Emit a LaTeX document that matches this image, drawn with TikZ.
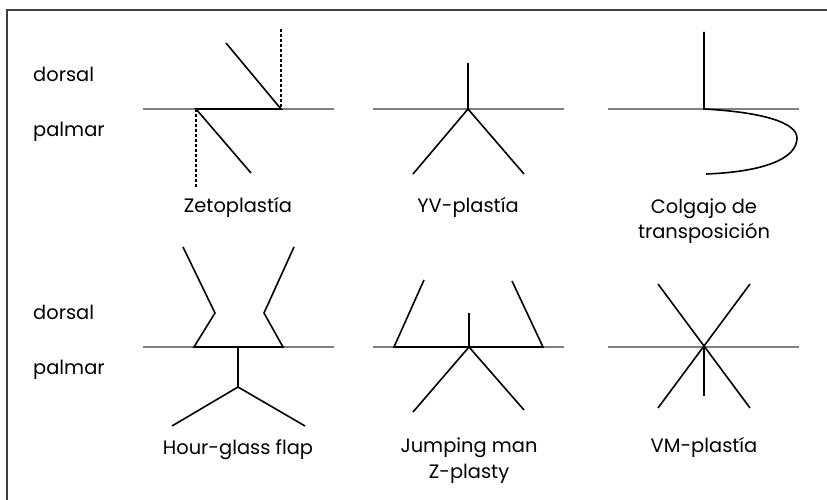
\documentclass[tikz,border=0pt]{standalone}
\usepackage{fontspec}
\setmainfont{Poppins}
\begin{document}
\begin{tikzpicture}[x=1bp,y=-1bp,
  lbl/.style={font=\fontsize{19.5}{26}\selectfont, inner sep=0pt, align=center},
  base/.style={draw=black!50, line width=1.2bp},
  cut/.style={draw=black, line width=1.6bp, line join=miter},
  dot/.style={draw=black, line width=1.3bp, dash pattern=on 3bp off 2bp}]
\useasboundingbox (0,0) rectangle (827,500);
\draw[black!75, line width=1.8bp] (7,500) -- (7,10) -- (827,10);
% side labels
\node[lbl, anchor=base west] (d1) at (33,82) {dorsal};
\node[lbl, anchor=base west] (p1) at (33,137) {palmar};
\node[lbl, anchor=base west] (d2) at (33,320) {dorsal};
\node[lbl, anchor=base west] (p2) at (33,374) {palmar};
% baselines
\foreach \y in {109,347}{
  \draw[base] (143,\y) -- (334,\y);
  \draw[base] (373,\y) -- (564,\y);
  \draw[base] (608,\y) -- (799,\y);
}
% Zetoplastia
\draw[cut] (226,43) -- (281,109) -- (196,109) -- (251,173);
\draw[dot] (281,29) -- (281,109);
\draw[dot] (196,109) -- (196,187);
\node[lbl, anchor=base] (t1) at (238,213) {Zetoplastía};
% YV-plastia
\draw[cut] (468,63) -- (468,109);
\draw[cut] (413,174) -- (468,109) -- (524,174);
\node[lbl, anchor=base] (t2) at (468,213) {YV-plastía};
% Colgajo
\draw[cut] (704,32) -- (704,109) .. controls (760,112) and (797,122) .. (797,138) .. controls (797,160) and (760,172) .. (706,174);
\node[lbl, anchor=base] (t3) at (704,239) {Colgajo de\\transposición};
% Hour-glass
\draw[cut] (183,247) -- (215,313) -- (194,347) -- (283,347) -- (264,313) -- (294,247);
\draw[cut] (238,347) -- (238,387);
\draw[cut] (172,426) -- (238,387) -- (305,426);
\node[lbl, anchor=base] (t4) at (238,454) {Hour-glass flap};
% Jumping man
\draw[cut] (424,280) -- (394,347) -- (543,347) -- (512,281);
\draw[cut] (469,313) -- (469,347);
\draw[cut] (413,412) -- (469,347) -- (524,410);
\node[lbl, anchor=base] (t5) at (469,478) {Jumping man\\Z-plasty};
% VM-plastia
\draw[cut] (658,284) -- (750,408);
\draw[cut] (750,284) -- (658,408);
\draw[cut] (704,347) -- (704,396);
\node[lbl, anchor=base] (t6) at (704,452) {VM-plastía};
\end{tikzpicture}
\end{document}
